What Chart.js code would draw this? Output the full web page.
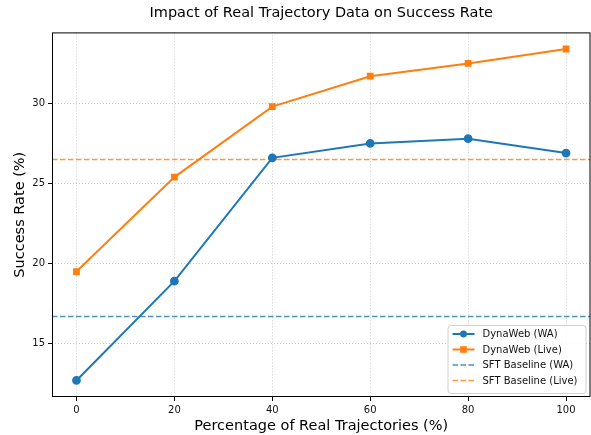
<!DOCTYPE html>
<html lang="en">
<head>
  <meta charset="UTF-8" />
  <title>Impact of Real Trajectory Data on Success Rate</title>
  <style>
    body { margin: 0; padding: 0; background: #fff; }
    .wrap { width: 591px; height: 435px; position: relative; }
  </style>
</head>
<body>
  <div class="wrap"><canvas id="chart" width="591" height="435"></canvas></div>

  <script src="https://cdn.jsdelivr.net/npm/chart.js"></script>
  <script>
    // data
    const percents = [0, 20, 40, 60, 80, 100];
    const waRates = [12.7, 18.9, 26.6, 27.5, 27.8, 26.9];
    const liveRates = [19.5, 25.4, 29.8, 31.7, 32.5, 33.4];
    const baselineWA = 16.7;
    const baselineLive = 26.5;
    const xTicks = [0, 20, 40, 60, 80, 100];
    const yTicks = [15, 20, 25, 30];
    const xRange = [-5, 105];
    const yRange = [11.665, 34.435];

    const blue = '#1f77b4';
    const orange = '#ff7f0e';
    const font = "'DejaVu Sans', sans-serif";

    const toPoints = ys => percents.map((x, i) => ({ x, y: ys[i] }));
    const flat = y => xRange.map(x => ({ x, y }));

    // full box around the plot area
    const frame = {
      id: 'frame',
      afterDraw(chart) {
        const { ctx, chartArea: a } = chart;
        ctx.save();
        ctx.strokeStyle = '#000';
        ctx.lineWidth = 1;
        ctx.strokeRect(a.left + 0.5, a.top + 0.5, a.right - a.left - 1, a.bottom - a.top - 1);
        ctx.restore();
      }
    };

    // matplotlib-like legend in the lower right corner
    const cornerLegend = {
      id: 'cornerLegend',
      afterDraw(chart) {
        const { ctx, chartArea: a } = chart;
        const items = chart.data.datasets;
        const w = 138, rowH = 15.5, h = 12 + rowH * items.length - 6;
        const x0 = a.right - w - 5, y0 = a.bottom - h - 4;
        ctx.save();
        ctx.fillStyle = 'rgba(255,255,255,0.85)';
        ctx.strokeStyle = '#d0d0d0';
        ctx.lineWidth = 1;
        ctx.beginPath();
        ctx.roundRect(x0 + 0.5, y0 + 0.5, w, h, 3);
        ctx.fill();
        ctx.stroke();
        ctx.font = '10px ' + font;
        ctx.textBaseline = 'middle';
        items.forEach((ds, i) => {
          const cy = y0 + 9 + i * rowH;
          const lx = x0 + 5;
          ctx.strokeStyle = ds.borderColor;
          ctx.lineWidth = ds.borderWidth;
          ctx.setLineDash(ds.borderDash || []);
          ctx.beginPath();
          ctx.moveTo(lx, cy);
          ctx.lineTo(lx + 22, cy);
          ctx.stroke();
          ctx.setLineDash([]);
          if (ds.pointRadius) {
            ctx.fillStyle = ds.borderColor;
            ctx.beginPath();
            if (ds.pointStyle === 'rect') {
              ctx.rect(lx + 11 - 3.3, cy - 3.3, 6.6, 6.6);
            } else {
              ctx.arc(lx + 11, cy, 3.4, 0, Math.PI * 2);
            }
            ctx.fill();
          }
          ctx.fillStyle = '#111';
          ctx.fillText(ds.label, lx + 30, cy + 0.5);
        });
        ctx.restore();
      }
    };

    const ticksFrom = list => axis => { axis.ticks = list.map(v => ({ value: v })); };
    const gridOpts = {
      color: 'rgba(0,0,0,0.26)', lineWidth: 0.8,
      tickColor: '#000', tickBorderDash: [], tickLength: 4, tickWidth: 1
    };

    new Chart(document.getElementById('chart'), {
      type: 'line',
      data: {
        datasets: [
          {
            label: 'DynaWeb (WA)', data: toPoints(waRates),
            borderColor: blue, backgroundColor: blue, borderWidth: 2,
            pointStyle: 'circle', pointRadius: 3.4, pointHoverRadius: 3.4
          },
          {
            label: 'DynaWeb (Live)', data: toPoints(liveRates),
            borderColor: orange, backgroundColor: orange, borderWidth: 2,
            pointStyle: 'rect', pointRadius: 3.4, pointHoverRadius: 3.4
          },
          {
            label: 'SFT Baseline (WA)', data: flat(baselineWA),
            borderColor: 'rgba(31,119,180,0.8)', borderWidth: 1.5, borderDash: [5.5, 2.5],
            pointRadius: 0
          },
          {
            label: 'SFT Baseline (Live)', data: flat(baselineLive),
            borderColor: 'rgba(255,127,14,0.8)', borderWidth: 1.5, borderDash: [5.5, 2.5],
            pointRadius: 0
          }
        ]
      },
      options: {
        responsive: false,
        animation: false,
        layout: { autoPadding: false, padding: { left: 0, right: 0.5, top: 0, bottom: 0 } },
        plugins: {
          legend: { display: false },
          tooltip: { enabled: false },
          title: {
            display: true,
            fullSize: false,
            text: 'Impact of Real Trajectory Data on Success Rate',
            color: '#000',
            font: { family: font, size: 14.5, weight: 'normal' },
            padding: { top: 5, bottom: 10 }
          }
        },
        scales: {
          x: {
            type: 'linear', min: xRange[0], max: xRange[1],
            afterBuildTicks: ticksFrom(xTicks),
            afterFit(s) { s.height = 38; s.paddingLeft = 0; s.paddingRight = 0; },
            border: { display: false, dash: [1, 2] },
            grid: gridOpts,
            ticks: { color: '#111', font: { family: font, size: 10 }, padding: 3, maxRotation: 0 },
            title: {
              display: true, text: 'Percentage of Real Trajectories (%)', color: '#000',
              font: { family: font, size: 14.5 }, padding: { top: 0, bottom: 0 }
            }
          },
          y: {
            type: 'linear', min: yRange[0], max: yRange[1],
            afterBuildTicks: ticksFrom(yTicks),
            afterFit(s) { s.width = 52; s.paddingTop = 0; s.paddingBottom = 0; },
            border: { display: false, dash: [1, 2] },
            grid: gridOpts,
            ticks: { color: '#111', font: { family: font, size: 10 }, padding: 3 },
            title: {
              display: true, text: 'Success Rate (%)', color: '#000',
              font: { family: font, size: 14.5 }, padding: { top: 12, bottom: 0 }
            }
          }
        }
      },
      plugins: [frame, cornerLegend]
    });
  </script>
</body>
</html>
